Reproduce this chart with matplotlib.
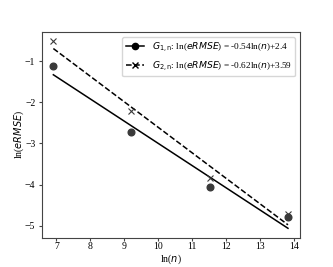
import numpy as np
from matplotlib import pyplot as plt
from matplotlib.lines import Line2D

# ln(n) for n = 1e3 ... 1e6
ln_n = [6.91, 9.21, 11.51, 13.82]
g1_err = [-1.12, -2.72, -4.07, -4.80]
g2_err = [-0.52, -2.20, -3.83, -4.72]

# fitted lines: slope, intercept
g1_fit = (-0.54, 2.4)
g2_fit = (-0.62, 3.59)

plt.rcParams['font.family'] = ['Liberation Serif', 'DejaVu Sans']
plt.rcParams['mathtext.fontset'] = 'dejavusans'
plt.rcParams['font.size'] = 7

fig, ax = plt.subplots(figsize=(3.33, 2.67), dpi=100)

x = np.array(ln_n)
ax.plot(x, g1_fit[0] * x + g1_fit[1], color='black', linestyle='-', linewidth=1.1)
ax.plot(x, g2_fit[0] * x + g2_fit[1], color='black', linestyle='--', linewidth=1.1)
ax.plot(x, g1_err, linestyle='none', marker='o', markersize=4.8, color='#3a3a3a')
ax.plot(x, g2_err, linestyle='none', marker='x', markersize=5, color='#3a3a3a', markeredgewidth=0.8)

handles = [
    Line2D([], [], color='black', linestyle='-', marker='o', markersize=4.5, linewidth=1.1),
    Line2D([], [], color='black', linestyle='--', marker='x', markersize=5, linewidth=1.1),
]
labels = [
    r'$G_{1,\mathrm{n}}$: ln($eRMSE$) = -0.54ln($n$)+2.4',
    r'$G_{2,\mathrm{n}}$: ln($eRMSE$) = -0.62ln($n$)+3.59',
]
ax.legend(handles, labels, loc='upper right', fontsize=6.7)

ax.set_xlabel(r'ln($n$)', labelpad=1)
ax.set_ylabel(r'ln($eRMSE$)', labelpad=-0.5)
ax.set_xticks([7, 8, 9, 10, 11, 12, 13, 14])
ax.tick_params(axis='x', length=2, pad=1.5, color='#444444')
ax.tick_params(axis='y', length=2, pad=2.5, color='#444444')
for s in ax.spines.values():
    s.set_color('#444444')

plt.savefig("out.png", dpi=100)
